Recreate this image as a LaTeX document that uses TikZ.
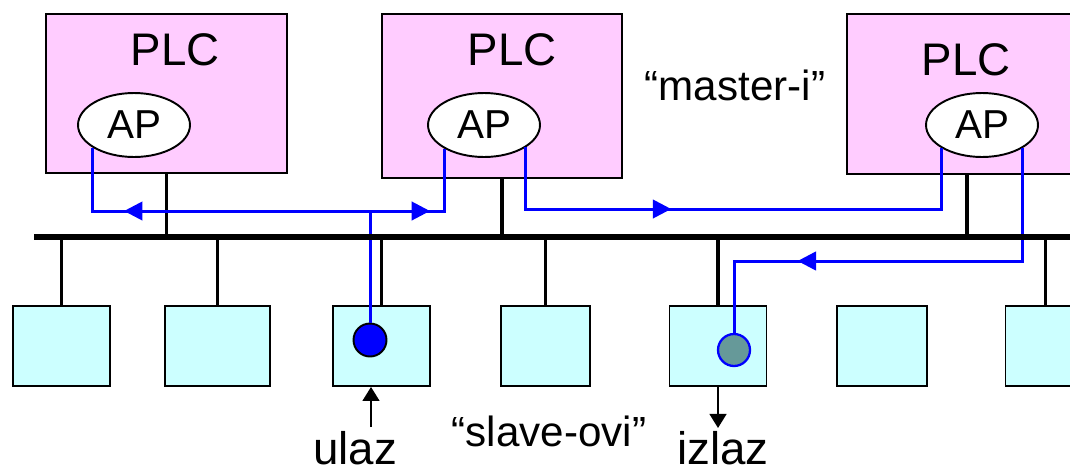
\documentclass[tikz,border=0pt]{standalone}
\usepackage{fontspec}
\setmainfont{Liberation Sans}
\usepackage{tikz}
\usetikzlibrary{shapes, positioning, calc, arrows.meta, decorations.markings}
\definecolor{plcpink}{HTML}{FFCCFF}
\definecolor{slavecyan}{HTML}{CCFFFF}
\definecolor{outgray}{HTML}{669999}

\begin{document}
\begin{tikzpicture}[x=0.02cm, y=-0.02cm,
  plc/.style={rectangle, draw, fill=plcpink, line width=1.1pt, inner sep=0, anchor=north west},
  ap/.style={ellipse, draw, fill=white, line width=1.1pt, minimum width=2.24cm, minimum height=1.28cm, inner sep=0, font=\fontsize{23}{26}\selectfont},
  slave/.style={rectangle, draw, fill=slavecyan, line width=1.1pt, minimum height=1.6cm, inner sep=0, anchor=north},
  bigtext/.style={anchor=base, inner sep=0, font=\fontsize{26}{30}\selectfont},
  quote/.style={anchor=base, inner sep=0, font=\fontsize{24}{28}\selectfont},
  stub/.style={line width=1.8pt},
  bus/.style={line width=2.9pt},
  sig/.style={draw=blue, line width=1.7pt},
  flowat/.style={postaction={decorate}, decoration={markings, mark=at position #1 with {\arrow[blue]{Triangle[length=10.5pt, width=10.5pt]}}}},
  io/.style={line width=1.4pt, -{Triangle[length=8pt, width=9.5pt]}}]
\useasboundingbox (0,0) rectangle (1070,474);

% Masters

\node [plc, minimum width=4.82cm, minimum height=3.18cm] (plc1) at (45,13) {};
\node [plc, minimum width=4.8cm, minimum height=3.28cm] (plc2) at (381,13) {};
\node [plc, minimum width=4.8cm, minimum height=3.2cm] (plc3) at (846,13) {};

\node [bigtext] (plc1title) at (175,65) {PLC};
\node [bigtext] (plc2title) at (512,65) {PLC};
\node [bigtext] (plc3title) at (966,75) {PLC};

\node [ap] (ap1) at (134,125) {AP};
\node [ap] (ap2) at (484,125) {AP};
\node [ap] (ap3) at (982,125) {AP};

\node [quote] (mastertext) at (735,100) {“master-i”};

% Bus

\coordinate (busL) at (34,237);
\coordinate (busR) at (1075,237);

\foreach \p in {plc1, plc2, plc3}
  \draw [stub] (\p.south) -- (\p.south |- busL);

% Slaves

\foreach \n/\x/\w in {1/61.5/97, 2/217.5/105, 3/381.5/97, 4/545.5/89, 5/718/97, 6/882/90, 7/1045.5/80}
  \node [slave, minimum width=\w*0.02cm] (s\n) at (\x,305) {};

\foreach \n in {1,2,3,4,5,7}
  \draw [stub] (s\n.north) -- (s\n.north |- busL);

\node [circle, draw, fill=blue, line width=1.1pt, minimum size=0.66cm, inner sep=0] (indot) at (370,340) {};
\node [circle, draw=blue, fill=outgray, line width=1.3pt, minimum size=0.64cm, inner sep=0] (outdot) at (734,350) {};

% Signal paths

\coordinate (linkA) at (370,211);
\coordinate (rowB) at (700,209);
\coordinate (rowC) at (900,261);

\draw [sig, flowat=4.92cm] (linkA) -| (ap1.209.3);
\draw [sig, flowat=1.2cm] (linkA) -| (ap2.211.7);
\draw [sig] (linkA) -- (indot);

\draw [sig, flowat=4.14cm] (ap2.332.6) |- (rowB) -| (ap3.210.5);

\draw [sig, flowat=6.75cm] (ap3.330.75) |- (rowC) -| (outdot);

\draw [bus] (busL) -- (busR);

% Input and output

\coordinate (infoot) at (371,427);
\draw [io] (infoot) -- (infoot |- s3.south);
\node [bigtext] (intext) at (355,464) {ulaz};

\coordinate (outfoot) at (718,428);
\draw [io] (s5.south) -- (outfoot);
\node [bigtext] (outtext) at (723,464) {izlaz};

\node [quote] (slavetext) at (549,446) {“slave-ovi”};

\end{tikzpicture}
\end{document}
